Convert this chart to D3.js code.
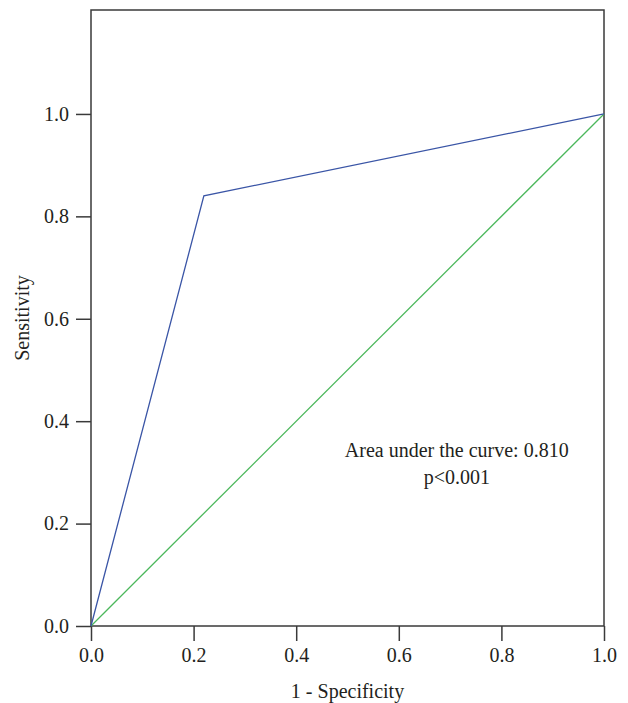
<!DOCTYPE html>
<html>
<head>
<meta charset="utf-8">
<script src="https://cdn.jsdelivr.net/npm/d3@7"></script>
<style>
  html, body { margin: 0; padding: 0; background: #fff; overflow: hidden; }
  svg { display: block; }
  text { font-family: "Liberation Serif", "DejaVu Serif", serif; fill: #231f20; }
</style>
</head>
<body>
<div id="chart"></div>
<script>
// ROC curve points (1 - specificity, sensitivity)
const rocFpr = [0, 0.22, 1.0]
const rocTpr = [0, 0.84, 1.0]
// reference diagonal
const refFpr = [0, 1]
const refTpr = [0, 1]
const xTicks = [0, 0.2, 0.4, 0.6, 0.8, 1.0]
const yTicks = [0, 0.2, 0.4, 0.6, 0.8, 1.0]
const aucLabel = 'Area under the curve: 0.810'
const pLabel = 'p<0.001'

const width = 628
const height = 703
const marginTop = 10
const marginRight = 24
const marginBottom = 77
const marginLeft = 91
const innerWidth = width - marginLeft - marginRight
const innerHeight = height - marginTop - marginBottom
const fontSize = 20

const svg = d3.select('#chart')
              .append('svg')
              .attr('width', width)
              .attr('height', height)
              .append('g')
              .attr('transform', `translate(${marginLeft}, ${marginTop})`)

const x = d3.scaleLinear()
            .domain([0, 1])
            .range([0, innerWidth])

const y = d3.scaleLinear()
            .domain([0, 1.203])
            .range([innerHeight, 0])

const axisColor = '#3a3a3a'

const xAxis = svg.append('g')
   .attr('transform', `translate(0, ${innerHeight})`)
   .call(d3.axisBottom(x).tickValues(xTicks).tickFormat(d3.format('.1f')).tickSize(15).tickPadding(7))
xAxis.attr('font-family', null).attr('font-size', null)
xAxis.select('.domain').remove()
xAxis.selectAll('line').attr('stroke', axisColor).attr('stroke-width', 1.5)
xAxis.selectAll('text').attr('font-size', fontSize).attr('fill', null)

const yAxis = svg.append('g')
   .call(d3.axisLeft(y).tickValues(yTicks).tickFormat(d3.format('.1f')).tickSize(15).tickPadding(7))
yAxis.attr('font-family', null).attr('font-size', null)
yAxis.select('.domain').remove()
yAxis.selectAll('line').attr('stroke', axisColor).attr('stroke-width', 1.5)
yAxis.selectAll('text').attr('font-size', fontSize).attr('fill', null)

// frame
svg.append('rect')
   .attr('x', 0)
   .attr('y', 0)
   .attr('width', innerWidth)
   .attr('height', innerHeight)
   .attr('fill', 'none')
   .attr('stroke', axisColor)
   .attr('stroke-width', 1.5)

const line = d3.line()
               .x(d => x(d[0]))
               .y(d => y(d[1]))

svg.append('path')
   .datum(d3.zip(refFpr, refTpr))
   .attr('d', line)
   .attr('fill', 'none')
   .attr('stroke', '#4cb85c')
   .attr('stroke-width', 1.3)

svg.append('path')
   .datum(d3.zip(rocFpr, rocTpr))
   .attr('d', line)
   .attr('fill', 'none')
   .attr('stroke', '#3a55a6')
   .attr('stroke-width', 1.3)

svg.append('text')
   .attr('x', x(0.713))
   .attr('y', y(0.33))
   .attr('text-anchor', 'middle')
   .attr('font-size', fontSize)
   .text(aucLabel)

svg.append('text')
   .attr('x', x(0.713))
   .attr('y', y(0.33) + 27)
   .attr('text-anchor', 'middle')
   .attr('font-size', fontSize)
   .text(pLabel)

svg.append('text')
   .attr('x', innerWidth / 2)
   .attr('y', innerHeight + 72)
   .attr('text-anchor', 'middle')
   .attr('font-size', fontSize)
   .text('1 - Specificity')

svg.append('text')
   .attr('transform', `translate(${29 - marginLeft}, ${innerHeight / 2}) rotate(-90)`)
   .attr('text-anchor', 'middle')
   .attr('font-size', fontSize)
   .text('Sensitivity')
</script>
</body>
</html>
